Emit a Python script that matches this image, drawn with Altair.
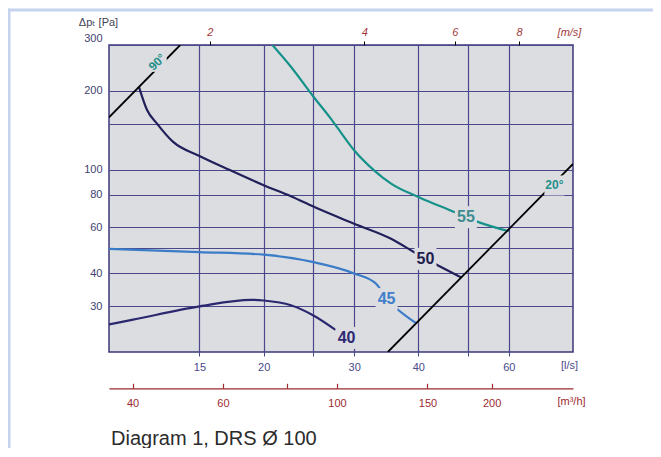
import math
import altair as alt
import pandas as pd

# ---------------- data ----------------
# curves: volume flow [l/s] and total pressure drop [Pa]
c40_q = [10, 11.14, 15, 18.9, 20, 22.6, 25, 27.6]
c40_p = [25.5, 26.6, 29.9, 31.7, 31.5, 30.2, 27.6, 24.3]
c45_q = [10, 15, 20, 25, 30, 33.1, 34.7, 36.2, 39.6]
c45_p = [49.7, 48.3, 47.2, 44.2, 40.0, 36.5, 32.0, 29.5, 25.8]
c50_q = [11.44, 11.86, 12.4, 13.33, 15, 17.23, 20, 22.6, 25.1, 30, 35.4, 39.2, 41.3, 43.7, 48.5]
c50_p = [207, 169, 150, 127.6, 112.7, 99.3, 87.1, 79.0, 71.8, 62.0, 54.3, 48.3, 45.5, 42.9, 38.6]
c55_q = [20.8, 22.6, 25.0, 27.0, 27.9, 30, 32.8, 35.4, 40.3, 47.0, 49.5, 52.4, 60]
c55_p = [300, 247.6, 190, 157, 143.7, 118.6, 99.3, 88.3, 78.0, 68.7, 65.7, 62.9, 58]
curve_names = ["40", "45", "50", "55"]
curve_colors = ["#2b2870", "#3a7cc8", "#22205a", "#16928a"]

# damper angle limit lines
line20_q = [34.9, 80]
line20_p = [20.0, 105.1]
line90_q = [10, 13.76]
line90_p = [158.4, 300]

# in-plot labels
label_text = ["40", "45", "50", "55", "20°", "90°"]
label_q = [29.0, 34.7, 41.3, 49.5, 73.6, 12.4]
label_p = [22.65, 31.9, 45.5, 65.7, 86.9, 258]
label_angle = [0, 0, 0, 0, 0, 315]
label_fsize = [16, 16, 16, 16, 12, 12]
label_bg = [484, 484, 484, 484, 400, 380]
label_colors = ["#2e2a72", "#3f7fc9", "#1f1c4e", "#3f8c8e", "#23908a", "#23908a"]

# axes
ls_grid = [15, 20, 25, 30, 40, 50, 60]
ls_labels = [15, 20, 30, 40, 60]
pa_grid = [30, 40, 50, 60, 80, 100, 150, 200, 300]
pa_labels = [30, 40, 60, 80, 100, 200, 300]
ms_ticks = [2, 4, 6, 8]
m3h_ticks = [40, 60, 80, 100, 150, 200]
m3h_labels = [40, 60, 100, 150, 200]
q_domain = [10, 80]
p_domain = [20, 300]
duct_d = 0.1
note = "Diagram 1, DRS Ø 100"

# ---------------- build tables ----------------
rows = []
for name, qs, ps in zip(curve_names, [c40_q, c45_q, c50_q, c55_q], [c40_p, c45_p, c50_p, c55_p]):
    for i, (q, p) in enumerate(zip(qs, ps)):
        rows.append({"name": name, "q": q, "p": p, "i": i})
df_curves = pd.DataFrame(rows)

rows = []
for name, qs, ps in [("20", line20_q, line20_p), ("90", line90_q, line90_p)]:
    for i, (q, p) in enumerate(zip(qs, ps)):
        rows.append({"name": name, "q": q, "p": p, "i": i})
df_lines = pd.DataFrame(rows)

df_labels = pd.DataFrame({
    "t": label_text, "q": label_q, "p": label_p, "a": label_angle,
    "fs": label_fsize, "bg": label_bg, "c": label_colors,
})

area = math.pi * (duct_d / 2) ** 2
ms_domain = [q / 1000 / area for q in q_domain]
m3h_domain = [q * 3.6 for q in q_domain]

FONT = "Liberation Sans, Arial, Helvetica, DejaVu Sans, sans-serif"
BG = "#dcdde1"
GRID = "#4b478b"
LS_COL = "#4a4a8c"
PA_COL = "#3f3f70"
RED = "#9c2a2e"
FRAME = "#c6d3ee"

W, H = 464, 307

xs = alt.Scale(type="log", domain=q_domain, nice=False)
ys = alt.Scale(type="log", domain=p_domain, nice=False)

x_axis = alt.Axis(
    values=ls_grid, format="d",
    labelExpr=f"indexof({ls_labels}, datum.value) >= 0 ? datum.label : ''",
    grid=True, gridColor=GRID, gridWidth=1.2, gridOpacity=1,
    domain=False, ticks=True, tickSize=4, tickColor=GRID,
    labelColor=LS_COL, labelFontSize=11, labelPadding=5, labelFlush=False,
    title="[l/s]", titleX=460, titleY=13, titleAlign="center", titleBaseline="middle",
    titleFontWeight="normal", titleFontSize=11, titleColor=LS_COL, titleAngle=0,
)
y_axis = alt.Axis(
    values=pa_grid, format="d",
    labelExpr=f"indexof({pa_labels}, datum.value) >= 0 ? datum.label : ''",
    grid=True, gridColor=GRID, gridWidth=1.2, gridOpacity=1,
    domain=False, ticks=False, labelPadding=7,
    labelColor=PA_COL, labelFontSize=11,
    labelOffset={"condition": {"test": "datum.value == 300", "value": -7}, "value": 0},
    title="Δpₜ [Pa]", titleAngle=0, titleX=-11, titleY=-23, titleAlign="center",
    titleBaseline="middle", titleFontWeight="normal", titleFontSize=11, titleColor="#444455",
)

X = alt.X("q:Q", scale=xs, axis=x_axis)
Y = alt.Y("p:Q", scale=ys, axis=y_axis)

curves = alt.Chart(df_curves).mark_line(clip=True, strokeWidth=2.2, interpolate="monotone").encode(
    x=X, y=Y,
    color=alt.Color("name:N", scale=alt.Scale(domain=curve_names, range=curve_colors), legend=None),
    order=alt.Order("i:Q"),
)

lines = alt.Chart(df_lines).mark_line(clip=True, strokeWidth=1.8, color="black").encode(
    x=X, y=Y, detail="name:N", order=alt.Order("i:Q"),
)

bgs = alt.Chart(df_labels).mark_point(shape="square", filled=True, opacity=1, color=BG, strokeWidth=0).encode(
    x=X, y=Y, size=alt.Size("bg:Q", scale=None, legend=None),
)

texts = alt.Chart(df_labels).mark_text(fontWeight="bold", font=FONT, align="center", baseline="middle").encode(
    x=X, y=Y, text="t:N",
    color=alt.Color("c:N", scale=None, legend=None),
    size=alt.Size("fs:Q", scale=None, legend=None),
    angle=alt.Angle("a:Q", scale=None),
)

note_layer = alt.Chart(pd.DataFrame({"t": [note]})).mark_text(
    align="left", baseline="alphabetic", fontSize=20, color="#2b2b2b", font=FONT
).encode(x=alt.value(2), y=alt.value(400), text="t:N")

frame_left = alt.Chart(pd.DataFrame({"k": [0]})).mark_rule(color=FRAME, strokeWidth=3).encode(
    x=alt.value(-100), y=alt.value(-36.5), y2=alt.value(404)
)
frame_top = alt.Chart(pd.DataFrame({"k": [0]})).mark_rule(color=FRAME, strokeWidth=3).encode(
    x=alt.value(-101.5), x2=alt.value(545), y=alt.value(-35)
)

main = alt.layer(frame_left, frame_top, curves, lines, bgs, texts, note_layer)

ms_layer = alt.Chart(pd.DataFrame({"v": ms_ticks})).mark_point(opacity=0).encode(
    x=alt.X("v:Q", scale=alt.Scale(type="log", domain=ms_domain, nice=False),
            axis=alt.Axis(orient="top", values=ms_ticks, format="d", grid=False, domain=False,
                          tickSize=4, tickColor="black", labelColor="#a23a3c", labelFontStyle="italic",
                          labelFontSize=11, labelPadding=4, labelFlush=False,
                          title="[m/s]", titleX=460, titleY=-13, titleAlign="center",
                          titleBaseline="middle", titleFontStyle="italic", titleFontWeight="normal",
                          titleFontSize=11, titleColor="#a23a3c", titleAngle=0))
)

m3h_layer = alt.Chart(pd.DataFrame({"v": m3h_ticks})).mark_point(opacity=0).encode(
    x=alt.X("v:Q", scale=alt.Scale(type="log", domain=m3h_domain, nice=False),
            axis=alt.Axis(orient="top", offset=-(H + 36.3), values=m3h_ticks, format="d",
                          labelExpr=f"indexof({m3h_labels}, datum.value) >= 0 ? datum.label : ''",
                          grid=False, domain=True, domainColor=RED, domainWidth=1.3,
                          tickSize=5, tickColor=RED, tickWidth=1.2,
                          labelColor=RED, labelFontSize=11, labelBaseline="top", labelPadding=-14,
                          labelFlush=False,
                          title="[m³/h]", titleX=462, titleY=13, titleAlign="center",
                          titleBaseline="middle", titleFontWeight="normal", titleFontSize=11,
                          titleColor=RED, titleAngle=0))
)

chart = alt.layer(main, ms_layer, m3h_layer).resolve_scale(x="independent").properties(
    width=W, height=H,
    autosize=alt.AutoSizeParams(type="none"),
    padding={"left": 101, "top": 37, "right": 80, "bottom": 96},
    background="white",
).configure_view(
    fill=BG, stroke="#3b3878", strokeWidth=1.5
).configure_axis(
    labelFont=FONT, titleFont=FONT
).configure_text(font=FONT)

chart.save("out.html", embed_options={"renderer": "svg", "actions": False})
